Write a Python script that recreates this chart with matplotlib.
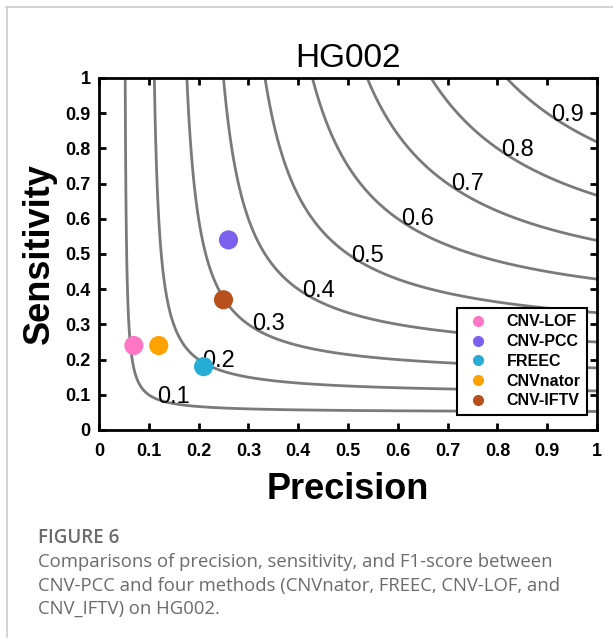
import numpy as np
import matplotlib
matplotlib.use("Agg")
import matplotlib.pyplot as plt
from matplotlib.lines import Line2D

# methods and their (precision, sensitivity)
methods = ["CNV-LOF", "CNV-PCC", "FREEC", "CNVnator", "CNV-IFTV"]
precision = [0.07, 0.26, 0.21, 0.12, 0.25]
sensitivity = [0.24, 0.54, 0.18, 0.24, 0.37]
colors = ["#ff77c4", "#7b62ee", "#25add6", "#ffa200", "#b8501c"]

# F1 iso-curves and where their labels sit
f1_levels = [0.1, 0.2, 0.3, 0.4, 0.5, 0.6, 0.7, 0.8, 0.9]
label_pos = [(0.15, 0.095), (0.24, 0.195), (0.34, 0.30), (0.44, 0.395),
             (0.54, 0.495), (0.64, 0.60), (0.74, 0.70), (0.84, 0.795),
             (0.94, 0.895)]

ticks = [0, 0.1, 0.2, 0.3, 0.4, 0.5, 0.6, 0.7, 0.8, 0.9, 1]
tick_labels = ["0", "0.1", "0.2", "0.3", "0.4", "0.5", "0.6", "0.7", "0.8", "0.9", "1"]

plt.rcParams["font.family"] = ["Liberation Sans", "DejaVu Sans"]

fig = plt.figure(figsize=(6.13, 6.41), dpi=100)
ax = fig.add_axes([99 / 613, 1 - 430 / 641, 498 / 613, 352 / 641])

p = np.linspace(0.001, 1, 600)
r = np.linspace(0.001, 1, 600)
P, R = np.meshgrid(p, r)
F = 2 * P * R / (P + R)
ax.contour(P, R, F, levels=f1_levels, colors="#7a7a7a", linewidths=2)

for lv, (x, y) in zip(f1_levels, label_pos):
    ax.text(x, y, str(lv), fontsize=17, ha="center", va="center", color="black")

for m, x, y, c in zip(methods, precision, sensitivity, colors):
    ax.scatter(x, y, s=190, color=c, zorder=3, edgecolors="none")

ax.set_xlim(0, 1)
ax.set_ylim(0, 1)
ax.set_xticks(ticks)
ax.set_xticklabels(tick_labels, fontweight="bold")
ax.set_yticks(ticks)
ax.set_yticklabels(tick_labels, fontweight="bold")
ax.tick_params(direction="in", length=5, width=2, labelsize=13, top=True, right=True, pad=6)
ax.tick_params(axis="x", pad=9)
for s in ax.spines.values():
    s.set_linewidth(2)

ax.set_title("HG002", fontsize=24, pad=8)
ax.set_xlabel("Precision", fontsize=26, fontweight="bold", labelpad=9)
ax.set_ylabel("Sensitivity", fontsize=26, fontweight="bold", labelpad=6)

handles = [Line2D([], [], marker="o", linestyle="none", color=c, markersize=7) for c in colors]
leg = ax.legend(handles, methods, loc="lower right", bbox_to_anchor=(0.98, 0.043),
                borderaxespad=0, prop={"weight": "bold", "size": 11.5},
                frameon=True, fancybox=False, framealpha=1,
                edgecolor="black", handletextpad=0.9, handlelength=1.8,
                borderpad=0.4, labelspacing=0.3)
leg.get_frame().set_linewidth(1.5)

# card borders
fig.add_artist(Line2D([6 / 613, 1], [1 - 7 / 641, 1 - 7 / 641], color="#cccccc", lw=1.2))
fig.add_artist(Line2D([7 / 613, 7 / 613], [1 - 7 / 641, 1 - 637 / 641], color="#cccccc", lw=1.2))

cap = "#6b6b6b"
fig.text(38 / 613, 1 - 543 / 641, "FIGURE 6", fontsize=13.5, fontweight="semibold",
         color=cap, family=["Open Sans", "DejaVu Sans"])
cap_lines = ["Comparisons of precision, sensitivity, and F1-score between",
             "CNV-PCC and four methods (CNVnator, FREEC, CNV-LOF, and",
             "CNV_IFTV) on HG002."]
for i, line in enumerate(cap_lines):
    fig.text(38 / 613, 1 - (567 + 23.5 * i) / 641, line, fontsize=13.3, color=cap,
             family=["Open Sans", "DejaVu Sans"])

fig.savefig("out.png", dpi=100)
